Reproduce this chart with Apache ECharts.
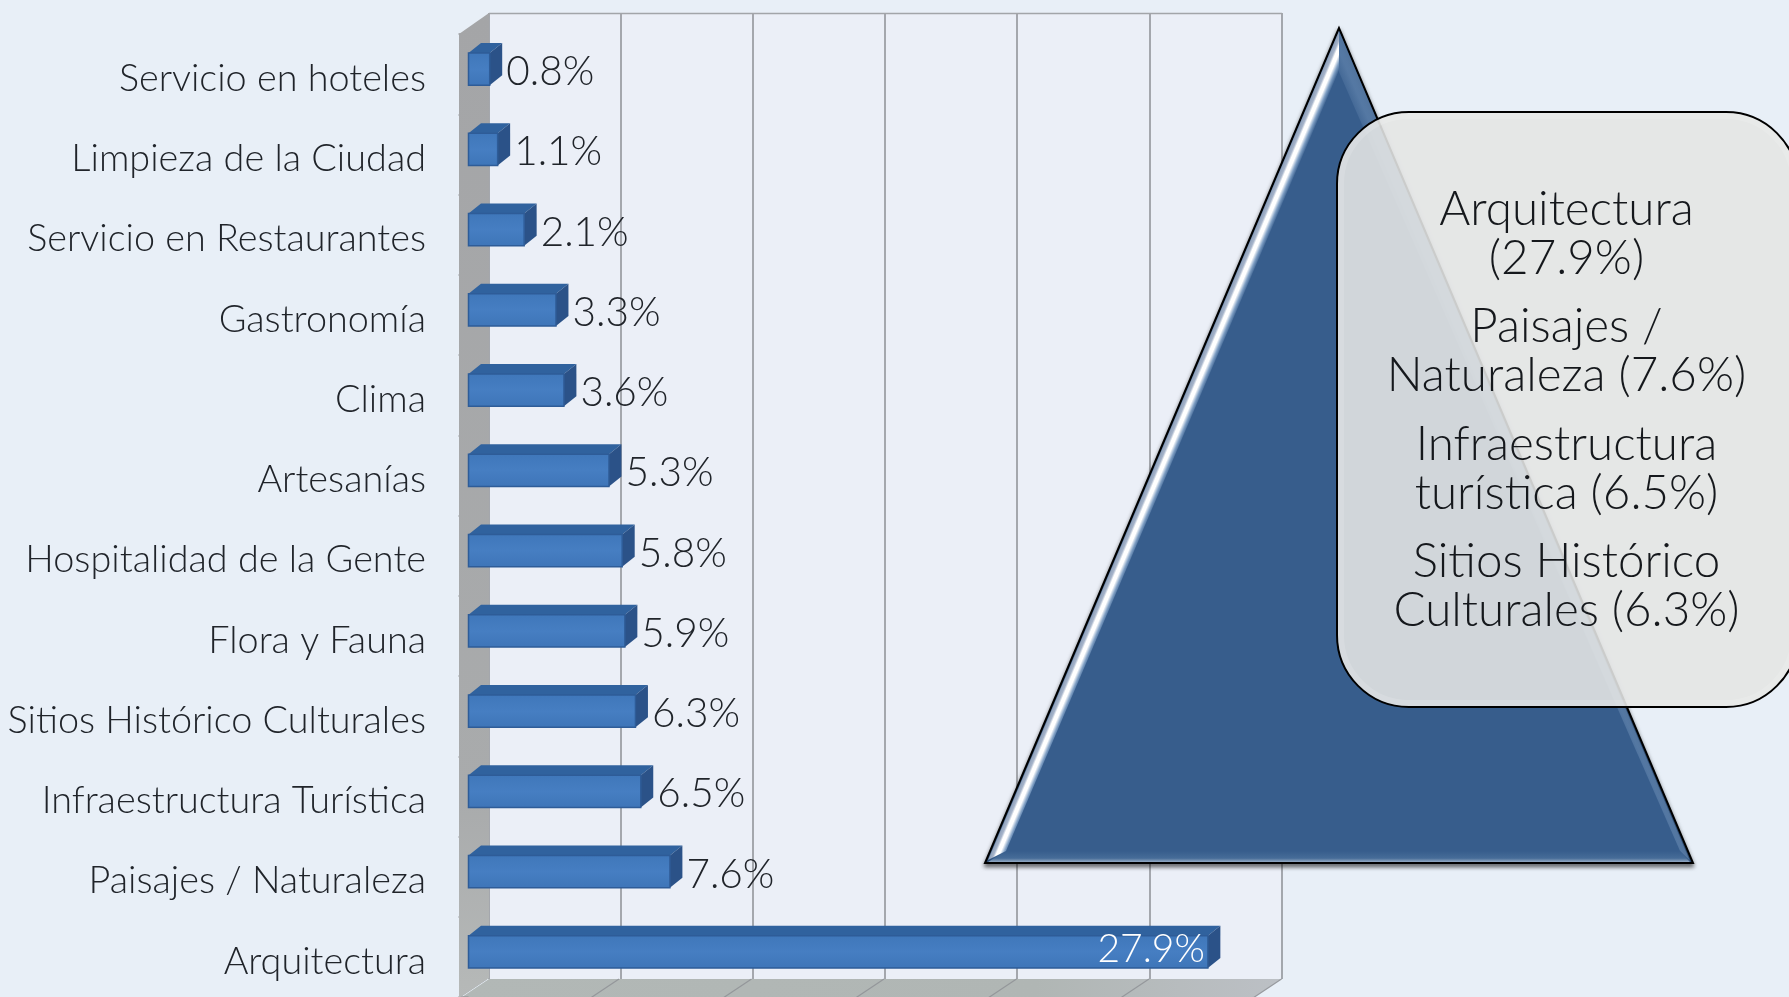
<!DOCTYPE html>
<html>
<head>
<meta charset="utf-8">
<style>html,body{margin:0;padding:0;background:#e8eff7}#c{width:1789px;height:997px}</style>
<script src="https://cdn.jsdelivr.net/npm/echarts@6/dist/echarts.min.js"></script>
</head>
<body>
<div id="c"></div>
<script>
const categories = ['Servicio en hoteles','Limpieza de la Ciudad','Servicio en Restaurantes','Gastronomía','Clima','Artesanías','Hospitalidad de la Gente','Flora y Fauna','Sitios Histórico Culturales','Infraestructura Turística','Paisajes / Naturaleza','Arquitectura'];
const shares = [0.8,1.1,2.1,3.3,3.6,5.3,5.8,5.9,6.3,6.5,7.6,27.9];
const gridTicks = [0,5,10,15,20,25,30];
const calloutLines = [['Arquitectura','(27.9%)'],['Paisajes /','Naturaleza (7.6%)'],['Infraestructura','turística (6.5%)'],['Sitios Histórico','Culturales (6.3%)']];

const FONT = 'Lato';
const GRID_GREY = '#8c8f94';

const chart = echarts.init(document.getElementById('c'), null, {renderer:'canvas'});

// 3D-looking bar: front face, top face and side face, plus its value label
function renderBar(params, api) {
  const value = api.value(0);
  const base = api.coord([0, api.value(1)]);
  const end = api.coord([value, api.value(1)]);
  const h = api.size([0, 1])[1] * 0.4;
  const dx = 12.5, dy = -10;
  const t = base[1] - 5 - h / 2, b = t + h, x0 = base[0], x1 = end[0];
  const inside = value > 20;
  return {type:'group', children:[
    {type:'polygon', shape:{points:[[x0,t],[x0+dx,t+dy],[x1+dx,t+dy],[x1,t]]},
      style:{fill:'#30629e'}},
    {type:'polygon', shape:{points:[[x1,t],[x1+dx,t+dy],[x1+dx,b+dy],[x1,b]]},
      style:{fill:'#2b5288'}},
    {type:'rect', shape:{x:x0,y:t,width:x1-x0,height:h},
      style:{fill:new echarts.graphic.LinearGradient(0,0,0,1,[{offset:0,color:'#3f77ba'},{offset:.5,color:'#467ec2'},{offset:1,color:'#3e75b8'}]),stroke:'#2e5c98',lineWidth:1.5}},
    {type:'text', z2:20, style:{
      text:value.toFixed(1)+'%',
      x: inside ? x1-3 : x1+dx+4,
      y: inside ? t+h/2-2 : t+h/2+3,
      align: inside ? 'right':'left', verticalAlign:'middle',
      fill: inside ? '#ffffff' : '#20242a',
      font:'300 '+(inside ? 39 : 40.5)+'px '+FONT}}
  ]};
}

// Diagonal floor rulings that run from the back wall to the front edge
function renderFloorLine(params, api) {
  const p = api.coord([api.value(0), 0]);
  const x = p[0];
  return {type:'line', shape:{x1:x+18,y1:979,x2:x-12,y2:999},
    style:{stroke:GRID_GREY,lineWidth:1.2,opacity:.8}};
}

const apex=[1339,28], bl=[985,863], br=[1693,863];

const bevelGradient = new echarts.graphic.LinearGradient(1113,560,1129,566.78,[
  {offset:0,color:'#7f94b0'},{offset:.3,color:'#a7b5cb'},{offset:.42,color:'#ffffff'},{offset:.6,color:'#ffffff'},{offset:.8,color:'#7f9fc4'},{offset:1,color:'#375d8c'}],true);
const rightBevel = new echarts.graphic.LinearGradient(1510,450,1496,456,[
  {offset:0,color:'#5c7fa9'},{offset:1,color:'#375d8c'}],true);
const bottomBevel = new echarts.graphic.LinearGradient(0,851,0,863,[
  {offset:0,color:'#375d8c'},{offset:.6,color:'#466c98'},{offset:1,color:'#a9bacd'}],true);

const graphics = [
  // back wall, side wall and floor
  {type:'rect',z:-5,shape:{x:489,y:13,width:792,height:966},style:{fill:'#ebeff7'}},
  {type:'line',z:6,shape:{x1:489,y1:13.5,x2:1282,y2:13.5},style:{stroke:'#a2a5a9',lineWidth:1.5}},
  {type:'polygon',z:6,shape:{points:[[459,34],[489,13],[489,978],[459,998]]},
    style:{fill:new echarts.graphic.LinearGradient(0,0,0,1,[{offset:0,color:'#a4a5a7'},{offset:.8,color:'#a9abac'},{offset:1,color:'#b6b9b8'}])}},
  {type:'polygon',z:-4,shape:{points:[[489,979],[1282,979],[1252,999],[459,999]]},
    style:{fill:new echarts.graphic.LinearGradient(0,0,1,0,[{offset:0,color:'#b2b8b6'},{offset:.7,color:'#b0b6b4'},{offset:1,color:'#bcc0c5'}])}},

  // triangle with bevelled edges
  {type:'polygon',z:100,shape:{points:[apex,bl,br]},
    style:{fill:'#375d8c',stroke:'#000',lineWidth:2,lineJoin:'miter',shadowColor:'rgba(0,0,0,.55)',shadowBlur:4,shadowOffsetY:3}},
  {type:'polygon',z:101,shape:{points:[[1339,31],[1690,861],[1680,851],[1339,72]]},style:{fill:rightBevel,opacity:.8}},
  {type:'polygon',z:101,shape:{points:[[988,862],[1690,862],[1680,851],[1006,851]]},style:{fill:bottomBevel}},
  {type:'polygon',z:102,shape:{points:[[1339,31],[988,860],[1006,851],[1339,71]]},style:{fill:bevelGradient}},

  // translucent callout panel
  {type:'rect',z:110,shape:{x:1337,y:112,width:461,height:595,r:72},
    style:{fill:'rgba(228,229,228,0.89)',stroke:'#000',lineWidth:2}},
  {type:'rect',z:111,shape:{x:1341,y:116,width:453,height:587,r:68},
    style:{fill:'none',stroke:'rgba(255,255,255,.14)',lineWidth:6}}
];

// callout text, two lines per entry
const blockTops = [210,327,445,562];
calloutLines.forEach((pair, i) => pair.forEach((line, j) => {
  graphics.push({type:'text',z:120,style:{
    text:line,x:1566.5,y:blockTops[i]+j*49,align:'center',verticalAlign:'middle',
    fill:'#15181c',font:'300 47.5px '+FONT}});
}));

chart.setOption({
  animation:false,
  backgroundColor:'#e8eff7',
  grid:[
    {left:468.5,top:34,width:795,height:965},
    {left:488.5,top:13,width:793,height:966}
  ],
  xAxis:[
    {type:'value',gridIndex:0,min:0,max:30,interval:5,show:false},
    {type:'value',gridIndex:1,min:0,max:30,interval:5,
      axisLine:{show:false},axisTick:{show:false},axisLabel:{show:false},
      splitLine:{show:true,lineStyle:{color:GRID_GREY,width:1.5}}}
  ],
  yAxis:[
    {type:'category',gridIndex:0,inverse:true,data:categories,offset:9.5,
      axisLine:{show:false},
      axisTick:{show:true,length:10,lineStyle:{color:'#9a9c9f',width:1.5}},
      axisLabel:{margin:33,fontFamily:FONT,fontWeight:300,fontSize:37.8,color:'#20242a',verticalAlign:'top',lineHeight:9},
      splitLine:{show:false}},
    {type:'value',gridIndex:1,show:false,splitLine:{show:false}}
  ],
  series:[
    {type:'custom',name:'floor',xAxisIndex:0,yAxisIndex:0,z:1,silent:true,clip:false,
      renderItem:renderFloorLine,data:gridTicks.map(t=>[t]),encode:{x:0}},
    {type:'custom',name:'shares',xAxisIndex:0,yAxisIndex:0,z:10,silent:true,clip:false,
      renderItem:renderBar,data:shares.map((v,i)=>[v,i]),encode:{x:0,y:1}}
  ],
  graphic:{elements:graphics}
});
</script>
</body>
</html>
